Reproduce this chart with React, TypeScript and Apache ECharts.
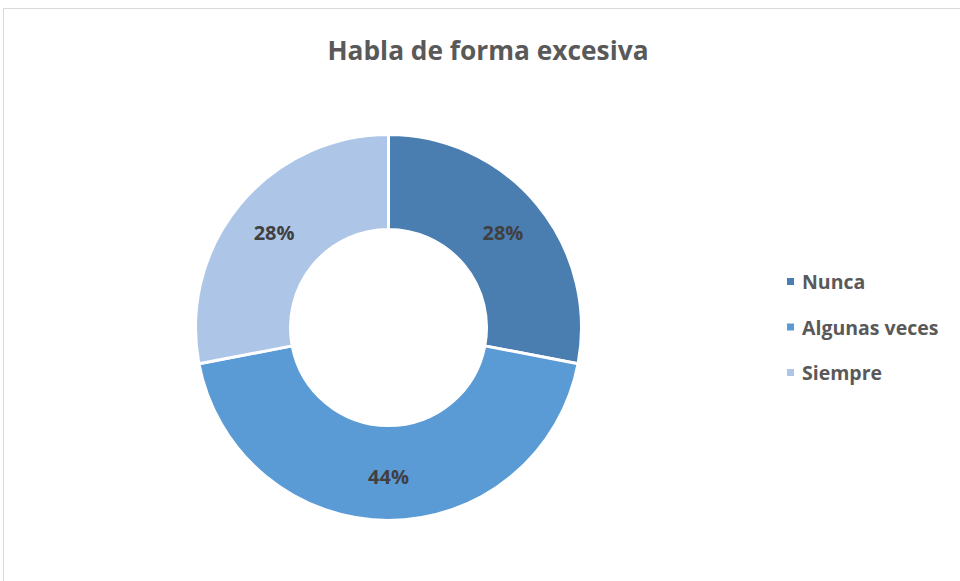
import React, { useEffect, useRef } from "react";
import * as echarts from "echarts";

const categories = ["Nunca", "Algunas veces", "Siempre"];
const values = [28, 44, 28];
const colors = ["#4A7EB1", "#5B9BD5", "#ADC5E7"];
const titleText = "Habla de forma excesiva";

export default function App() {
  const ref = useRef<HTMLDivElement>(null);
  useEffect(() => {
    if (!ref.current) return;
    const chart = echarts.init(ref.current, null, { renderer: "svg" });
    chart.setOption({
      animation: false,
      backgroundColor: "#ffffff",
      graphic: [
        {
          type: "rect",
          shape: { x: 3.5, y: 8.5, width: 1000, height: 700 },
          style: { fill: "none", stroke: "#d9d9d9", lineWidth: 1 },
          silent: true,
          z: -1,
        },
        {
          type: "text",
          x: 488,
          y: 50,
          style: {
            text: titleText,
            fontFamily: "Open Sans",
            fontSize: 26.3,
            fontWeight: "bold",
            fill: "#595959",
            textAlign: "center",
            textVerticalAlign: "middle",
          },
        },
      ],
      legend: {
        orient: "vertical",
        left: 785,
        top: 271.5,
        padding: 0,
        icon: "rect",
        itemWidth: 9,
        itemHeight: 9,
        itemGap: 25.5,
        data: categories,
        textStyle: {
          fontFamily: "Open Sans",
          fontSize: 19.5,
          fontWeight: "bold",
          color: "#595959",
          lineHeight: 20,
          padding: [0, 0, 0, 2],
        },
      },
      series: [
        {
          type: "pie",
          center: [388.5, 327.5],
          radius: [98, 193],
          startAngle: 90,
          clockwise: true,
          avoidLabelOverlap: false,
          itemStyle: { borderColor: "#ffffff", borderWidth: 3 },
          label: {
            show: true,
            position: "inside",
            formatter: "{c}%",
            fontFamily: "Open Sans",
            fontSize: 20,
            fontWeight: "bold",
            color: "#404040",
          },
          labelLine: { show: false },
          emphasis: { disabled: true },
          data: categories.map((name, i) => ({
            name,
            value: values[i],
            itemStyle: { color: colors[i] },
          })),
        },
      ],
    });
    return () => chart.dispose();
  }, []);
  return (
    <div
      ref={ref}
      style={{ position: "fixed", left: 0, top: 0, width: 960, height: 581 }}
    />
  );
}
